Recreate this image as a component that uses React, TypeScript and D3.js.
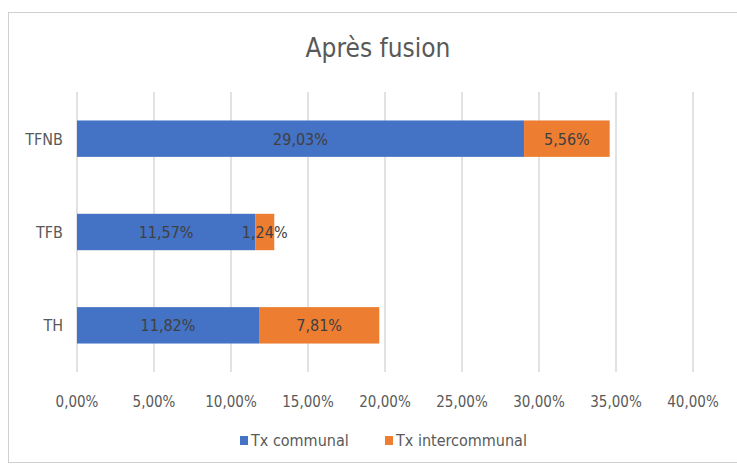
import React, { useEffect, useRef } from "react";
import * as d3 from "d3";

const categories = ["TFNB", "TFB", "TH"];
const communal = [29.03, 11.57, 11.82];
const intercommunal = [5.56, 1.24, 7.81];
const ticks = [0, 5, 10, 15, 20, 25, 30, 35, 40];
const seriesNames = ["Tx communal", "Tx intercommunal"];
const colors = ["#4472C4", "#ED7D31"];

const W = 737;
const H = 468;
const FONT = "'Liberation Sans Narrow', 'DejaVu Sans Condensed', 'Open Sans', sans-serif";

const fmt = (v: number) => v.toFixed(2).replace(".", ",") + "%";

export default function App() {
  const ref = useRef<SVGSVGElement>(null);

  useEffect(() => {
    const svg = d3.select(ref.current);
    svg.selectAll("*").remove();

    svg.append("rect").attr("width", W).attr("height", H).attr("fill", "#fff");
    // chart frame
    svg
      .append("rect")
      .attr("x", 8.5)
      .attr("y", 12.5)
      .attr("width", W)
      .attr("height", 450)
      .attr("fill", "#fff")
      .attr("stroke", "#d0d0d0");

    svg
      .append("text")
      .attr("x", 378)
      .attr("y", 57)
      .attr("text-anchor", "middle")
      .attr("font-family", FONT)
      .attr("font-size", 26)
      .attr("fill", "#595959")
      .text("Après fusion");

    const x = d3.scaleLinear().domain([0, 40]).range([77, 693]);
    const y = d3.scaleBand().domain(categories).range([92, 372]).paddingInner(0.61).paddingOuter(0.305);

    // gridlines
    svg
      .append("g")
      .selectAll("line")
      .data(ticks)
      .join("line")
      .attr("x1", (d) => x(d))
      .attr("x2", (d) => x(d))
      .attr("y1", 92)
      .attr("y2", 372)
      .attr("stroke", "#d9d9d9")
      .attr("stroke-width", 1.5);

    // tick labels
    svg
      .append("g")
      .selectAll("text")
      .data(ticks)
      .join("text")
      .attr("x", (d) => x(d))
      .attr("y", 407)
      .attr("text-anchor", "middle")
      .attr("font-family", FONT)
      .attr("font-size", 15)
      .attr("fill", "#595959")
      .text((d) => fmt(d));

    // category labels
    svg
      .append("g")
      .selectAll("text")
      .data(categories)
      .join("text")
      .attr("x", 63)
      .attr("y", (d) => y(d)! + y.bandwidth() / 2 + 6)
      .attr("text-anchor", "end")
      .attr("font-family", FONT)
      .attr("font-size", 16)
      .attr("fill", "#595959")
      .text((d) => d);

    const rows = categories.map((c, i) => ({ cat: c, communal: communal[i], intercommunal: intercommunal[i] }));
    const stack = d3.stack<any>().keys(["communal", "intercommunal"])(rows);

    stack.forEach((layer, li) => {
      const g = svg.append("g");
      g.selectAll("rect")
        .data(layer)
        .join("rect")
        .attr("x", (d) => x(d[0]))
        .attr("y", (d) => y(d.data.cat)!)
        .attr("width", (d) => x(d[1]) - x(d[0]))
        .attr("height", y.bandwidth())
        .attr("fill", colors[li]);
      g.selectAll("text")
        .data(layer)
        .join("text")
        .attr("x", (d) => (x(d[0]) + x(d[1])) / 2)
        .attr("y", (d) => y(d.data.cat)! + y.bandwidth() / 2 + 6)
        .attr("text-anchor", "middle")
        .attr("font-family", FONT)
        .attr("font-size", 16)
        .attr("fill", "#404040")
        .text((d) => fmt(d[1] - d[0]));
    });

    // legend
    const legend = svg.append("g");
    const lx = [240, 385];
    seriesNames.forEach((name, i) => {
      legend
        .append("rect")
        .attr("x", lx[i])
        .attr("y", 436)
        .attr("width", 8)
        .attr("height", 9)
        .attr("fill", colors[i]);
      legend
        .append("text")
        .attr("x", lx[i] + 11)
        .attr("y", 446)
        .attr("font-family", FONT)
        .attr("font-size", 16)
        .attr("fill", "#595959")
        .text(name);
    });
  }, []);

  return <svg ref={ref} width={W} height={H} style={{ position: "absolute", left: 0, top: 0 }} />;
}
